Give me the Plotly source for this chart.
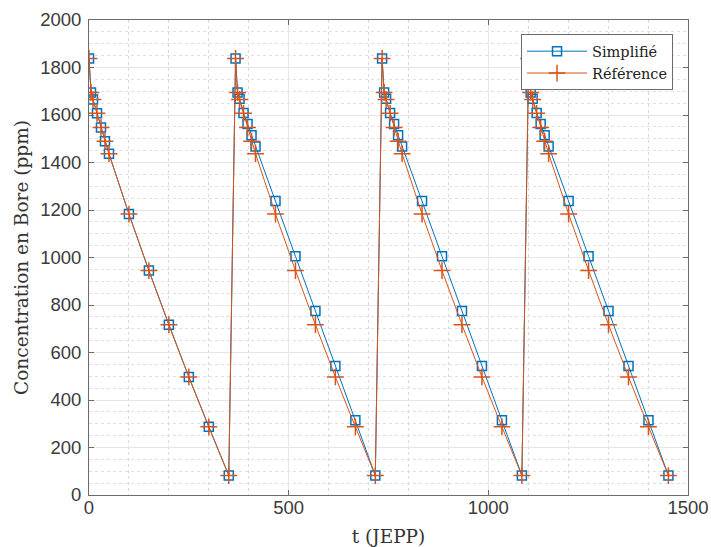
import plotly.graph_objects as go

# Time (JEPP) for each point, four cycles
t = [0, 5, 10, 20, 30, 40, 50, 100, 150, 200, 250, 300, 350,
     367, 372, 377, 387, 397, 407, 417, 467, 517, 567, 617, 667, 717,
     734, 739, 744, 754, 764, 774, 784, 834, 884, 934, 984, 1034, 1084,
     1101, 1106, 1111, 1121, 1131, 1141, 1151, 1201, 1251, 1301, 1351, 1401, 1451]

# Boron concentration (ppm)
simplifie = [1838, 1695, 1665, 1607, 1547, 1490, 1437, 1183, 945, 717, 497, 287, 82,
             1838, 1695, 1668, 1608, 1562, 1515, 1467, 1238, 1005, 775, 543, 315, 82,
             1838, 1695, 1668, 1608, 1562, 1515, 1467, 1238, 1005, 775, 543, 315, 82,
             1838, 1695, 1668, 1608, 1562, 1515, 1467, 1238, 1005, 775, 543, 315, 82]

reference = [1838, 1695, 1665, 1607, 1547, 1490, 1437, 1183, 945, 717, 497, 287, 82,
             1838, 1695, 1665, 1607, 1547, 1490, 1437, 1183, 945, 717, 497, 287, 82,
             1838, 1695, 1665, 1607, 1547, 1490, 1437, 1183, 945, 717, 497, 287, 82,
             1838, 1695, 1665, 1607, 1547, 1490, 1437, 1183, 945, 717, 497, 287, 82]

x_ticks = [0, 500, 1000, 1500]
y_ticks = [0, 200, 400, 600, 800, 1000, 1200, 1400, 1600, 1800, 2000]

BLUE = "#0072BD"
RED = "#D95319"

fig = go.Figure()
fig.add_trace(go.Scatter(
    x=t, y=simplifie, name="Simplifié", mode="lines+markers",
    line=dict(color=BLUE, width=1),
    marker=dict(symbol="square-open", size=9, color=BLUE, line=dict(width=1.5, color=BLUE)),
))
fig.add_trace(go.Scatter(
    x=t, y=reference, name="Référence", mode="lines+markers",
    line=dict(color=RED, width=1),
    marker=dict(symbol="cross-thin-open", size=12, color=RED, line=dict(width=1.5, color=RED)),
))

axis_common = dict(
    showline=True, linecolor="#6a6a6a", linewidth=1, mirror="ticks",
    ticks="inside", ticklen=5, tickcolor="#6a6a6a",
    showgrid=True, gridcolor="#e6e6e6", gridwidth=1,
    zeroline=False, automargin=False, ticklabeloverflow="allow",
    tickfont=dict(family="Liberation Sans, Arial", size=18.5, color="#3a3a3a"),
)

fig.update_xaxes(
    range=[0, 1500], tickvals=x_ticks,
    title=dict(text="t (JEPP)", font=dict(family="DejaVu Serif", size=18.5, color="#333"), standoff=15),
    minor=dict(dtick=100, showgrid=True, gridcolor="#dadada", griddash="dot", ticks=""),
    ticklabelstandoff=-4,
    **axis_common,
)
fig.update_yaxes(
    range=[0, 2000], tickvals=y_ticks,
    title=dict(text="Concentration en Bore (ppm)", font=dict(family="DejaVu Serif", size=18.5, color="#333"), standoff=6),
    minor=dict(dtick=50, showgrid=True, gridcolor="#e0e0e0", griddash="dot", ticks=""),
    ticklabelstandoff=3,
    **axis_common,
)

fig.update_layout(
    width=711, height=547,
    margin=dict(l=89, r=23, t=20, b=52),
    plot_bgcolor="white", paper_bgcolor="white",
    legend=dict(
        x=0.975, y=0.97, xanchor="right", yanchor="top",
        bgcolor="white", bordercolor="#6a6a6a", borderwidth=1,
        font=dict(family="DejaVu Serif", size=14.5, color="#222"),
        tracegroupgap=0, itemwidth=60,
    ),
    showlegend=True,
)

fig.write_html(
    "out.html",
    config={"displayModeBar": False},
    post_script="document.body.style.margin='0';document.body.style.overflow='hidden';",
)
